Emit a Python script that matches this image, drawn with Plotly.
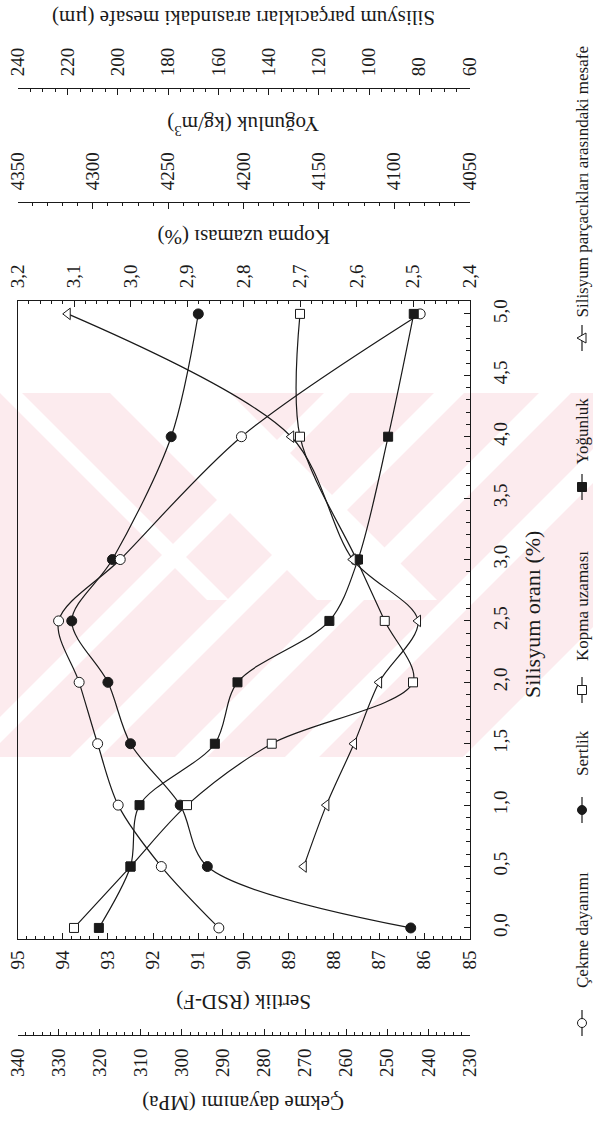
import plotly.graph_objects as go

W, H = 593, 1124
INK = "#1a1a1a"
FONT = "Liberation Serif"

# Silisyum oranı (%) and the measured properties
silisyum = [0.0, 0.5, 1.0, 1.5, 2.0, 2.5, 3.0, 4.0, 5.0]
cekme_dayanimi = [291, 305, 315.5, 320.5, 325, 330, 315, 285.5, 242]      # MPa
sertlik = [86.3, 90.8, 91.4, 92.5, 93.0, 93.8, 92.9, 91.6, 91.0]          # RSD-F
kopma_uzamasi = [3.10, 3.00, 2.90, 2.75, 2.50, 2.55, 2.60, 2.70, 2.70]    # %
yogunluk = [4296, 4275, 4269, 4219, 4204, 4143, 4124, 4104, 4087]         # kg/m3
silisyum_mesafe = [0.5, 1.0, 1.5, 2.0, 2.5, 3.0, 4.0, 5.0]
mesafe = [126, 117, 106, 96, 80.5, 106.5, 131, 220]                        # µm

# page layout in pixels (figure is drawn turned a quarter turn)
BOX_L, BOX_R, BOX_T, BOX_B = 17.5, 469.5, 301, 939


def px(x):
    return x / W


def py(y):
    return 1 - y / H


series = [
    ("Çekme dayanımı", silisyum, cekme_dayanimi, "x2", "circle", "white"),
    ("Sertlik", silisyum, sertlik, "x", "circle", INK),
    ("Kopma uzaması", silisyum, kopma_uzamasi, "x3", "square", "white"),
    ("Yoğunluk", silisyum, yogunluk, "x4", "square", INK),
    ("Silisyum parçacıkları arasındaki mesafe", silisyum_mesafe, mesafe, "x5",
     "triangle-left", "white"),
]

fig = go.Figure()
for name, s, v, ax, sym, fill in series:
    fig.add_trace(go.Scatter(
        x=v, y=s, xaxis=ax, yaxis="y", name=name, mode="lines+markers",
        line=dict(color=INK, width=1.2, shape="spline", smoothing=0.9),
        marker=dict(symbol=sym, size=10 if sym != "square" else 9, color=fill,
                    line=dict(color=INK, width=1)),
        showlegend=False, cliponaxis=False,
    ))

tickfont = dict(family=FONT, size=19, color=INK)


def value_axis(rng, dtick, mdtick, fmt=None, standoff=2, **kw):
    d = dict(
        range=rng, dtick=dtick, tick0=0, ticks="inside", ticklen=6, tickwidth=1,
        tickcolor=INK, minor=dict(dtick=mdtick, tick0=0, ticks="inside", ticklen=3,
                                  tickwidth=1, tickcolor=INK),
        showline=True, linecolor=INK, linewidth=1, showgrid=False, zeroline=False,
        tickangle=-90, tickfont=tickfont, ticklabelstandoff=standoff,
        domain=[px(BOX_L), px(BOX_R)],
    )
    if fmt:
        d["tickformat"] = fmt
    d.update(kw)
    return d


fig.update_layout(
    width=W, height=H, margin=dict(l=0, r=0, t=0, b=0, autoexpand=False),
    paper_bgcolor="white", plot_bgcolor="rgba(0,0,0,0)", separators=",.",
    showlegend=False,
    xaxis=value_axis([95, 85], 1, 0.2, "d", 3, anchor="y", side="bottom"),
    xaxis2=value_axis([340, 230], 10, 2, "d", 5, anchor="free", overlaying="x",
                      side="bottom", position=py(1035)),
    xaxis3=value_axis([3.2, 2.4], 0.1, 0.02, ".1f", 8, anchor="y", overlaying="x",
                      side="top"),
    xaxis4=value_axis([4350, 4050], 50, 10, "d", 8, anchor="free", overlaying="x",
                      side="top", position=py(202)),
    xaxis5=value_axis([240, 60], 20, 5, "d", 8, anchor="free", overlaying="x",
                      side="top", position=py(88)),
    yaxis=dict(
        range=[-0.09, 5.105], domain=[py(BOX_B), py(BOX_T)], anchor="x", side="right",
        dtick=0.5, tick0=0, tickformat=".1f", ticks="inside", ticklen=6, tickwidth=1,
        tickcolor=INK, minor=dict(dtick=0.1, tick0=0, ticks="inside", ticklen=4,
                                  tickwidth=1, tickcolor=INK),
        showline=True, mirror=True, linecolor=INK, linewidth=1, showgrid=False,
        zeroline=False, tickangle=-90, tickfont=tickfont, ticklabelstandoff=14,
    ),
)

# axis titles
titles = [
    ("Silisyum parçacıkları arasındaki mesafe (µm)", 18),
    ("Yoğunluk (kg/m<sup>3</sup>)", 126),
    ("Kopma uzaması (%)", 237),
    ("Sertlik (RSD-F)", 1002),
    ("Çekme dayanımı (MPa)", 1103),
]
for text, yy in titles:
    fig.add_annotation(x=px((BOX_L + BOX_R) / 2), y=py(yy), xref="paper", yref="paper",
                       text=text, showarrow=False, textangle=180,
                       font=dict(family=FONT, size=21, color=INK),
                       xanchor="center", yanchor="middle")
fig.add_annotation(x=px(532), y=py(615), xref="paper", yref="paper",
                   text="Silisyum oranı (%)", showarrow=False, textangle=-90,
                   font=dict(family=FONT, size=22, color=INK),
                   xanchor="center", yanchor="middle")

shapes = []

# faint pink watermark band behind the plot
PINK = "#fcebee"
WM_T, WM_B = 393, 757
WM_MID = 600
DY = WM_B - WM_T


def poly(pts, color):
    path = "M" + " L".join(f"{px(a)},{py(b)}" for a, b in pts) + " Z"
    return dict(type="path", xref="paper", yref="paper", layer="below", path=path,
                fillcolor=color, line=dict(width=0))


shapes.append(poly([(0, WM_T), (593, WM_T), (593, 627), (463, WM_B), (0, WM_B)], PINK))
# rising white stripes
for xb, w in [(-40, 26), (70, 30), (175, 32), (285, 34)]:
    shapes.append(poly([(xb, WM_B), (xb + w, WM_B), (xb + w + DY, WM_T), (xb + DY, WM_T)],
                       "white"))
# falling white stripes in the upper left corner
for xt, w in [(0, 22), (110, 120)]:
    h = WM_MID - WM_T
    shapes.append(poly([(xt, WM_T), (xt + w, WM_T), (xt + w + h, WM_MID), (xt + h, WM_MID)],
                       "white"))

# legend, written along the right edge
LX = 582
legend_items = [
    ("Çekme dayanımı", "circle", "white", 1023, 990),
    ("Sertlik", "circle", INK, 810, 778),
    ("Kopma uzaması", "square", "white", 690, 663),
    ("Yoğunluk", "square", INK, 487, 467),
    ("Silisyum parçacıkları arasındaki mesafe", "triangle", "white", 338, 320),
]
for text, sym, fill, yc, ytext in legend_items:
    shapes.append(dict(type="line", xref="paper", yref="paper",
                       x0=px(LX), x1=px(LX), y0=py(yc - 13), y1=py(yc + 13),
                       line=dict(color=INK, width=1.2)))
    r = 4.5
    if sym == "circle":
        shapes.append(dict(type="circle", xref="paper", yref="paper",
                           x0=px(LX - r), x1=px(LX + r), y0=py(yc + r), y1=py(yc - r),
                           fillcolor=fill, line=dict(color=INK, width=1)))
    elif sym == "square":
        shapes.append(dict(type="rect", xref="paper", yref="paper",
                           x0=px(LX - r), x1=px(LX + r), y0=py(yc + r), y1=py(yc - r),
                           fillcolor=fill, line=dict(color=INK, width=1)))
    else:
        shapes.append(dict(type="path", xref="paper", yref="paper",
                           path=f"M{px(LX - 5)},{py(yc)} L{px(LX + 4)},{py(yc - 5)} "
                                f"L{px(LX + 4)},{py(yc + 5)} Z",
                           fillcolor=fill, line=dict(color=INK, width=1)))
    fig.add_annotation(x=px(LX), y=py(ytext), xref="paper", yref="paper", text=text,
                       showarrow=False, textangle=-90,
                       font=dict(family=FONT, size=17, color=INK),
                       xanchor="center", yanchor="bottom")

fig.update_layout(shapes=shapes)
fig.write_html("out.html")
